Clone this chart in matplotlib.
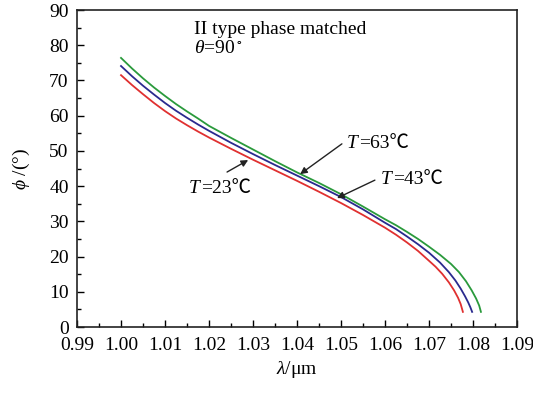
import matplotlib
matplotlib.use("Agg")
import matplotlib.pyplot as plt
from matplotlib.ticker import MultipleLocator

plt.rcParams['font.family'] = ['Liberation Serif', 'Noto Sans CJK SC', 'DejaVu Serif']
plt.rcParams['mathtext.fontset'] = 'custom'
plt.rcParams['mathtext.rm'] = 'Liberation Serif'
plt.rcParams['mathtext.it'] = 'Liberation Serif:italic'
plt.rcParams['mathtext.fallback'] = 'stix'

# ---- data ----
lam_23 = [1.000, 1.0025, 1.005, 1.0075, 1.010, 1.0125, 1.015, 1.0175, 1.020, 1.025,
          1.030, 1.035, 1.040, 1.045, 1.050, 1.055, 1.060, 1.0625, 1.065, 1.0675,
          1.070, 1.0715, 1.073, 1.0745, 1.0757, 1.0766, 1.0772, 1.0777]
phi_23 = [71.5, 68.7, 66.1, 63.6, 61.3, 59.2, 57.3, 55.5, 53.8, 50.6,
          47.5, 44.5, 41.5, 38.4, 35.2, 31.8, 28.2, 26.2, 24.0, 21.6,
          18.8, 17.1, 15.1, 12.7, 10.4, 8.3, 6.5, 4.3]

lam_43 = [1.000, 1.0025, 1.005, 1.0075, 1.010, 1.0125, 1.015, 1.0175, 1.020, 1.025,
          1.030, 1.035, 1.040, 1.045, 1.050, 1.055, 1.060, 1.0625, 1.065, 1.0675,
          1.070, 1.0725, 1.0745, 1.076, 1.0772, 1.0782, 1.0789, 1.0794, 1.0798]
phi_43 = [74.1, 71.2, 68.5, 66.0, 63.6, 61.4, 59.4, 57.5, 55.7, 52.3,
          49.1, 46.0, 43.0, 40.0, 36.9, 33.4, 29.6, 27.8, 25.7, 23.5,
          21.1, 18.3, 15.6, 13.2, 10.9, 8.7, 7.0, 5.6, 4.3]

lam_63 = [1.000, 1.0025, 1.005, 1.0075, 1.010, 1.0125, 1.015, 1.0175, 1.020, 1.025,
          1.030, 1.035, 1.040, 1.045, 1.050, 1.055, 1.060, 1.0625, 1.065, 1.0675,
          1.070, 1.0725, 1.075, 1.0768, 1.0784, 1.0797, 1.0807, 1.0814, 1.0818]
phi_63 = [76.4, 73.4, 70.6, 68.0, 65.6, 63.3, 61.2, 59.2, 57.1, 53.7,
          50.4, 47.1, 43.9, 40.9, 37.7, 34.2, 30.6, 28.9, 27.0, 25.0,
          22.8, 20.5, 17.9, 15.6, 13.0, 10.4, 8.1, 6.1, 4.3]

x_ticks = [0.99, 1.00, 1.01, 1.02, 1.03, 1.04, 1.05, 1.06, 1.07, 1.08, 1.09]
y_ticks = [0, 10, 20, 30, 40, 50, 60, 70, 80, 90]

FS = 14

fig = plt.figure(figsize=(5.33, 3.94), dpi=100)
ax = fig.add_axes([0.1445, 0.170, 0.8255, 0.8046])

ax.plot(lam_23, phi_23, color='#e03030', lw=1.3)
ax.plot(lam_43, phi_43, color='#2a2a8e', lw=1.3)
ax.plot(lam_63, phi_63, color='#2a9a3c', lw=1.3)

ax.set_xlim(0.99, 1.09)
ax.set_ylim(0, 90)
ax.set_xticks(x_ticks)
ax.set_xticklabels([f"{v:.2f}" for v in x_ticks])
ax.set_yticks(y_ticks)
ax.xaxis.set_minor_locator(MultipleLocator(0.005))
ax.yaxis.set_minor_locator(MultipleLocator(5))
ax.tick_params(which='both', direction='in', top=False, right=False, labelsize=FS)
ax.tick_params(axis='x', which='both', pad=7)
ax.tick_params(axis='y', which='both', pad=6)
ax.tick_params(which='major', length=5, width=1.0)
ax.tick_params(which='minor', length=3, width=1.0)
for s in ax.spines.values():
    s.set_linewidth(1.2)
    s.set_color('#222222')

ax.set_xlabel(r'$\lambda$/μm', fontsize=FS, labelpad=4)
ax.set_ylabel(r'$\phi$ /(°)', fontsize=FS, labelpad=12)

ax.text(1.0166, 84.4, 'II type phase matched', fontsize=FS, va='center')
ax.text(1.0166, 79.1, r'$\theta$=90$^\circ$', fontsize=FS, va='center')

arrowprops = dict(arrowstyle='-|>', color='#222222', lw=1.0, mutation_scale=10,
                  shrinkA=0, shrinkB=0)


def label_T(temp, tip, start, txt_xy):
    t = ax.text(txt_xy[0], txt_xy[1], 'T', fontsize=FS, fontstyle='italic',
                va='center', ha='left')
    ax.annotate(f'={temp}℃', xy=(1.0, 0.5), xycoords=t, xytext=(1, 0),
                textcoords='offset points', fontsize=FS, va='center', ha='left')
    ax.annotate('', xy=tip, xytext=start, arrowprops=arrowprops)


label_T(63, (1.0407, 43.4), (1.0502, 52.0), (1.0514, 52.2))
label_T(43, (1.0491, 36.6), (1.0577, 41.7), (1.0591, 42.0))
label_T(23, (1.0289, 47.4), (1.0241, 44.0), (1.0153, 39.2))

fig.savefig('out.png', dpi=100)
